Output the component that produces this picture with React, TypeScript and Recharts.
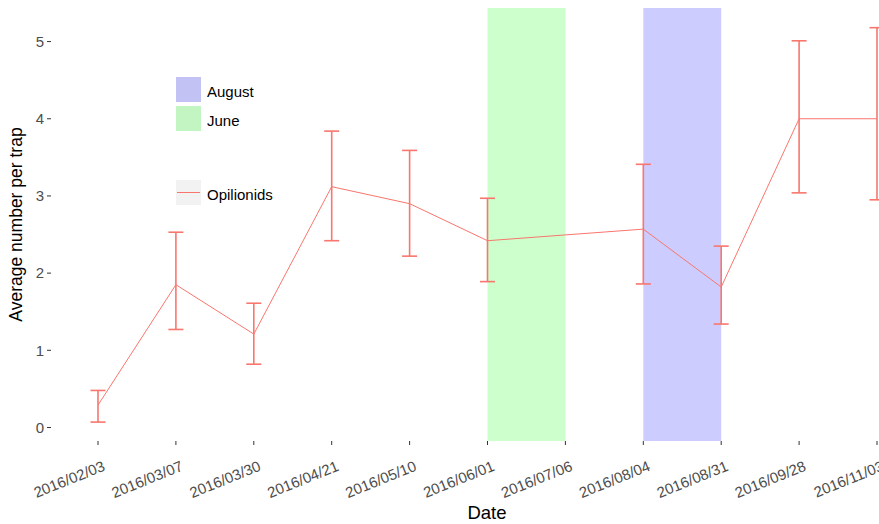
import { LineChart, Line, XAxis, YAxis, ErrorBar, ReferenceArea, Legend } from 'recharts'

const dates = [
    '2016/02/03', '2016/03/07', '2016/03/30', '2016/04/21', '2016/05/10', '2016/06/01',
    '2016/07/06', '2016/08/04', '2016/08/31', '2016/09/28', '2016/11/03',
]
// mean per trap, no sample on 07/06
const means = [0.29, 1.85, 1.21, 3.12, 2.9, 2.42, null, 2.57, 1.82, 4.0, 4.0]
const lows = [0.07, 1.27, 0.82, 2.42, 2.22, 1.89, null, 1.86, 1.34, 3.04, 2.95]
const highs = [0.48, 2.53, 1.61, 3.84, 3.59, 2.97, null, 3.41, 2.35, 5.01, 5.18]
const yTicks = [0, 1, 2, 3, 4, 5]

const periodNames = ['June', 'August']
const periodStarts = ['2016/06/01', '2016/08/04']
const periodEnds = ['2016/07/06', '2016/08/31']
const legendOrder = ['August', 'June']
const seriesName = 'Opilionids'

const FONT = '"Liberation Sans", Arial, sans-serif'
const LINE_COLOR = '#F8766D'
const periodFill: Record<string, string> = { June: '#00FF00', August: '#0000FF' }
const periodKey: Record<string, string> = { June: '#C2F5C2', August: '#C2C2F5' }

const rows = dates.map((date, i) => ({
    date,
    mean: means[i],
    err: means[i] == null ? null : [means[i]! - lows[i]!, highs[i]! - means[i]!],
}))

function DateTick({ x, y, payload }: any) {
    const ax = x + 8
    const ay = y + 23
    return (
        <text
            x={ax}
            y={ay}
            transform={`rotate(-22, ${ax}, ${ay})`}
            textAnchor="end"
            fill="#4D4D4D"
            fontSize={15}
            fontFamily={FONT}
        >
            {payload.value}
        </text>
    )
}

function LegendBox() {
    const key = { width: 27, height: 27, boxSizing: 'border-box' as const, border: '1px solid #fff' }
    return (
        <div style={{ fontFamily: FONT, fontSize: 15, color: '#000' }}>
            {legendOrder.map((name) => (
                <div key={name} style={{ display: 'flex', alignItems: 'center', marginBottom: 2 }}>
                    <div style={{ ...key, background: periodKey[name] }} />
                    <span style={{ marginLeft: 5, paddingTop: 3 }}>{name}</span>
                </div>
            ))}
            <div style={{ display: 'flex', alignItems: 'center', marginTop: 47 }}>
                <div style={{ ...key, background: '#F2F2F2', position: 'relative' }}>
                    <div style={{ position: 'absolute', left: 1, right: 1, top: 12, height: 1, background: LINE_COLOR }} />
                </div>
                <span style={{ marginLeft: 5, paddingTop: 3 }}>{seriesName}</span>
            </div>
        </div>
    )
}

export default function App() {
    return (
        <div style={{ position: 'absolute', left: 0, top: 0, width: 879, height: 524, overflow: 'hidden', background: '#fff' }}>
            <LineChart width={924} height={524} data={rows} margin={{ top: 8, right: 0, bottom: 0, left: 0 }}>
                <XAxis
                    dataKey="date"
                    height={83}
                    padding={{ left: 47, right: 47 }}
                    axisLine={false}
                    tickSize={4}
                    tickLine={{ stroke: '#333333' }}
                    interval={0}
                    tick={<DateTick />}
                    label={{
                        content: ({ viewBox }: any) => (
                            <text x={487} y={viewBox.y + viewBox.height - 5} textAnchor="middle" fontSize={18.5} fontFamily={FONT} fill="#000">
                                Date
                            </text>
                        ),
                    }}
                />
                <YAxis
                    width={51}
                    type="number"
                    domain={[-0.175, 5.435]}
                    allowDataOverflow
                    ticks={yTicks}
                    axisLine={false}
                    tickSize={4}
                    tickMargin={3}
                    tickLine={{ stroke: '#333333' }}
                    tick={{ fill: '#4D4D4D', fontSize: 15, fontFamily: FONT }}
                    label={{
                        content: ({ viewBox }: any) => {
                            const cy = viewBox.y + viewBox.height / 2
                            return (
                                <text x={22} y={cy} transform={`rotate(-90, 22, ${cy})`} textAnchor="middle" fontSize={17.5} fontFamily={FONT} fill="#000">
                                    Average number per trap
                                </text>
                            )
                        },
                    }}
                />
                <Line
                    dataKey="mean"
                    name={seriesName}
                    stroke={LINE_COLOR}
                    strokeWidth={1}
                    dot={false}
                    activeDot={false}
                    connectNulls
                    isAnimationActive={false}
                >
                    <ErrorBar dataKey="err" direction="y" width={7.5} stroke={LINE_COLOR} strokeWidth={1.6} isAnimationActive={false} />
                </Line>
                {periodNames.map((name, i) => (
                    <ReferenceArea
                        key={name}
                        x1={periodStarts[i]}
                        x2={periodEnds[i]}
                        fill={periodFill[name]}
                        fillOpacity={0.2}
                        stroke="none"
                        ifOverflow="visible"
                    />
                ))}
                <Legend
                    layout="horizontal"
                    align="center"
                    verticalAlign="middle"
                    content={<LegendBox />}
                    wrapperStyle={{ left: 175, top: 76, width: 150, height: 140 }}
                />
            </LineChart>
        </div>
    )
}
